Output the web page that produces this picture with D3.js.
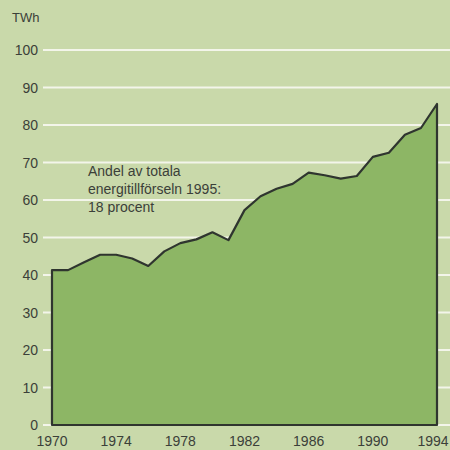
<!DOCTYPE html>
<html>
<head>
<meta charset="utf-8">
<script src="https://cdn.jsdelivr.net/npm/d3@7"></script>
<style>
  body { margin: 0; background: #c9d9aa; }
  svg { display: block; }
</style>
</head>
<body>
<div id="mainDiv"></div>
<script>
var years = [1970, 1971, 1972, 1973, 1974, 1975, 1976, 1977, 1978, 1979, 1980, 1981,
             1982, 1983, 1984, 1985, 1986, 1987, 1988, 1989, 1990, 1991, 1992, 1993, 1994];
var twh = [41.3, 41.3, 43.4, 45.4, 45.4, 44.4, 42.4, 46.3, 48.5, 49.5, 51.4, 49.3,
           57.3, 61, 63, 64.3, 67.3, 66.6, 65.7, 66.4, 71.5, 72.6, 77.4, 79.2, 85.6];
var yTicks = [0, 10, 20, 30, 40, 50, 60, 70, 80, 90, 100];
var xTicks = [1970, 1974, 1978, 1982, 1986, 1990, 1994];
var noteLines = ["Andel av totala", "energitillförseln 1995:", "18 procent"];

var data = years.map(function(y, i) { return { year: y, value: twh[i] }; });

var svg = d3.select("#mainDiv").append("svg").attr("width", 450).attr("height", 450);

svg.append("rect").attr("width", 450).attr("height", 450).attr("fill", "#c9d9aa");

var x = d3.scaleLinear().domain([1970, 1994]).range([52, 437]);
var y = d3.scaleLinear().domain([0, 100]).range([425, 50]);

var font = "'Liberation Sans', Arial, sans-serif";

// white grid lines
svg.selectAll(".grid").data(yTicks).enter().append("line")
    .attr("x1", 43).attr("x2", 450)
    .attr("y1", function(d) { return y(d); })
    .attr("y2", function(d) { return y(d); })
    .attr("stroke", "#f3f5ea").attr("stroke-width", 2.2);

// y labels
svg.selectAll(".ylab").data(yTicks).enter().append("text")
    .attr("x", 38).attr("y", function(d) { return y(d) + 5; })
    .attr("text-anchor", "end")
    .attr("font-family", font).attr("font-size", 14)
    .attr("fill", "#3b4039")
    .text(function(d) { return d; });

svg.append("text").attr("x", 12).attr("y", 22)
    .attr("font-family", font).attr("font-size", 13)
    .attr("fill", "#3b4039").text("TWh");

// area
var area = d3.area()
    .x(function(d) { return x(d.year); })
    .y0(y(0))
    .y1(function(d) { return y(d.value); });

svg.append("path").datum(data)
    .attr("d", area)
    .attr("fill", "#8db665")
    .attr("stroke", "#2f352f").attr("stroke-width", 2.2)
    .attr("stroke-linejoin", "round");

// x labels (last one kept inside the frame)
svg.selectAll(".xlab").data(xTicks).enter().append("text")
    .attr("x", function(d) { return Math.min(x(d), 433); }).attr("y", 446)
    .attr("text-anchor", "middle")
    .attr("font-family", font).attr("font-size", 14)
    .attr("fill", "#3b4039")
    .text(function(d) { return d; });

// annotation
svg.selectAll(".note").data(noteLines).enter().append("text")
    .attr("x", 88).attr("y", function(d, i) { return 176 + i * 18; })
    .attr("font-family", font).attr("font-size", 14)
    .attr("fill", "#3b4039")
    .text(function(d) { return d; });
</script>
</body>
</html>
